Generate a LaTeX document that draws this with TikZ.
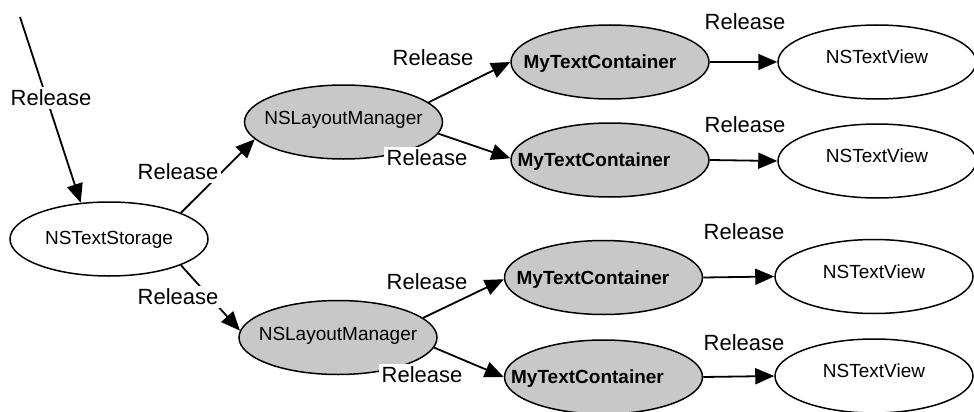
\documentclass[tikz,border=0pt]{standalone}
\usepackage{fontspec}
\setmainfont{Liberation Sans}
\usetikzlibrary{shapes.geometric,arrows.meta}
\definecolor{nodegray}{RGB}{200,200,200}
\newcommand{\nodetext}[3]{\raisebox{#2}[0pt][0pt]{\makebox[0pt]{\kern#1 #3}}}
\tikzset{
  basenode/.style={ellipse, draw=black, line width=1.5pt, minimum width=198pt,
    minimum height=74pt, inner sep=0pt, font=\fontsize{19}{22}\selectfont},
  whitenode/.style={basenode, fill=white},
  graynode/.style={basenode, fill=nodegray},
  conn/.style={line width=1.8pt, -{Triangle[length=19pt,width=16pt]}},
  rel/.style={fill=white, inner sep=2.5pt, font=\fontsize{22}{26}\selectfont},
}
\begin{document}
\begin{tikzpicture}[x=1pt,y=-1pt]
\useasboundingbox[fill=white] (0,0) rectangle (974,412);
% nodes
\node[whitenode] (ts) at (109,239) {\nodetext{0pt}{-5.8pt}{NSTextStorage}};
\node[graynode] (lm1) at (343.5,122) {\nodetext{0pt}{-2.8pt}{NSLayoutManager}};
\node[graynode] (lm2) at (338,337.5) {\nodetext{0pt}{-2.8pt}{NSLayoutManager}};
\node[graynode] (tc1) at (610,62) {\nodetext{-20pt}{-6.8pt}{\bfseries MyTextContainer}};
\node[graynode] (tc2) at (610,160) {\nodetext{-32pt}{-6.8pt}{\bfseries MyTextContainer}};
\node[graynode] (tc3) at (603.5,277.5) {\nodetext{-21pt}{-6.8pt}{\bfseries MyTextContainer}};
\node[graynode] (tc4) at (603.5,377) {\nodetext{-32pt}{-6.8pt}{\bfseries MyTextContainer}};
\node[whitenode] (tv1) at (877,62) {\nodetext{0pt}{-1.8pt}{NSTextView}};
\node[whitenode] (tv2) at (877,161) {\nodetext{0pt}{-1.8pt}{NSTextView}};
\node[whitenode] (tv3) at (874,276.5) {\nodetext{0pt}{-1.8pt}{NSTextView}};
\node[whitenode] (tv4) at (874,376) {\nodetext{0pt}{-1.8pt}{NSTextView}};
% connectors
\coordinate (src) at (20,17);
\draw[conn] (src) -- (ts.128);
\draw[conn] (ts.20) -- (lm1.191);
\draw[conn] (ts.-20) -- (lm2.176);
\draw[conn] (lm1.13) -- (tc1.180);
\draw[conn] (lm1.-7) -- (tc2.179);
\draw[conn] (lm2.13) -- (tc3.181);
\draw[conn] (lm2.-6) -- (tc4.180);
\draw[conn] (tc1.east) -- (tv1.west);
\draw[conn] (tc2.east) -- (tv2.west);
\draw[conn] (tc3.east) -- (tv3.west);
\draw[conn] (tc4.east) -- (tv4.west);
% labels
\node[rel] (r0) at (51,98) {Release};
\node[rel] (r1) at (178,172) {Release};
\node[rel] (r2) at (178,297) {Release};
\node[rel] (r3) at (433,58) {Release};
\node[rel] (r4) at (427,158) {Release};
\node[rel] (r5) at (427,282) {Release};
\node[rel] (r6) at (422,375) {Release};
\node[rel] (r7) at (745,22) {Release};
\node[rel] (r8) at (745,125) {Release};
\node[rel] (r9) at (744,232) {Release};
\node[rel] (r10) at (744,343) {Release};
\end{tikzpicture}
\end{document}
